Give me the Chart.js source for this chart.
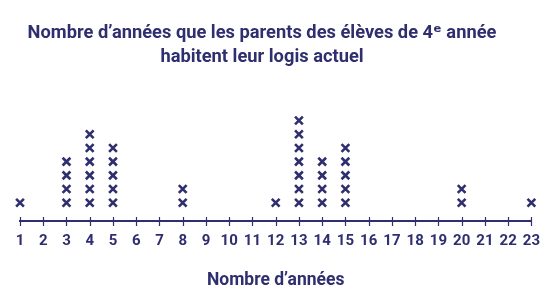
<!DOCTYPE html>
<html>
<head>
<meta charset="utf-8">
<script src="https://cdn.jsdelivr.net/npm/chart.js@4"></script>
<style>
  html, body { margin: 0; padding: 0; background: #fff; }
  #wrap { width: 551px; height: 301px; }
</style>
</head>
<body>
<div id="wrap"><canvas id="chart"></canvas></div>
<script>
// years lived in current home -> number of students (one "x" each)
var years = [1, 3, 4, 5, 8, 12, 13, 14, 15, 20, 23];
var counts = [1, 4, 6, 5, 2, 1, 7, 4, 5, 2, 1];
var titleLines = ["Nombre d\u2019années que les parents des élèves de 4\u1D49 année", "habitent leur logis actuel"];
var axisTitle = "Nombre d\u2019années";

var navy = "#2f2e6e";
var fontFamily = "Roboto, 'DejaVu Sans', sans-serif";

var points = [];
for (var i = 0; i < years.length; i++) {
    for (var k = 1; k <= counts[i]; k++) {
        points.push({ x: years[i], y: k });
    }
}

// small tick marks crossing the axis line
var tickMarks = {
    id: "tickMarks",
    afterDraw: function(chart) {
        var ctx = chart.ctx;
        var xs = chart.scales.x;
        var y0 = chart.chartArea.bottom;
        ctx.save();
        ctx.strokeStyle = navy;
        ctx.lineWidth = 1.2;
        for (var v = xs.min; v <= xs.max; v++) {
            var px = Math.round(xs.getPixelForValue(v)) + 0.5;
            ctx.beginPath();
            ctx.moveTo(px, y0 - 4);
            ctx.lineTo(px, y0 + 5);
            ctx.stroke();
        }
        ctx.restore();
    }
};

// the title in the original sits a bit left of centre
var titleShift = {
    id: "titleShift",
    afterLayout: function(chart) {
        if (chart.titleBlock) {
            chart.titleBlock.left -= 14;
            chart.titleBlock.right -= 14;
        }
    }
};

var ctx = document.getElementById("chart").getContext("2d");
var oneChart = new Chart(ctx, {
    type: "scatter",
    data: {
        datasets: [{
            data: points,
            clip: false,
            pointStyle: "crossRot",
            pointRadius: 5.5,
            pointBorderWidth: 2.6,
            borderColor: navy,
            backgroundColor: navy
        }]
    },
    options: {
        responsive: true,
        maintainAspectRatio: false,
        animation: false,
        layout: { padding: { left: 20, right: 19, top: 22, bottom: 10 } },
        plugins: {
            legend: { display: false },
            tooltip: { enabled: false },
            title: {
                display: true,
                text: titleLines,
                color: navy,
                font: { family: fontFamily, size: 18.3, weight: "bold", lineHeight: 1.3 },
                padding: { top: 0, bottom: 19 }
            }
        },
        scales: {
            x: {
                type: "linear",
                min: 1,
                max: 23,
                grid: { display: false, drawTicks: false },
                border: { display: true, color: navy, width: 2 },
                ticks: {
                    stepSize: 1,
                    padding: 11,
                    color: navy,
                    font: { family: fontFamily, size: 15, weight: "bold" }
                },
                title: {
                    display: true,
                    text: axisTitle,
                    color: navy,
                    font: { family: fontFamily, size: 17.5, weight: "bold" },
                    padding: { top: 9, bottom: 0 }
                }
            },
            y: {
                display: false,
                min: -0.33,
                max: 9.33
            }
        }
    },
    plugins: [tickMarks, titleShift]
});
</script>
</body>
</html>
